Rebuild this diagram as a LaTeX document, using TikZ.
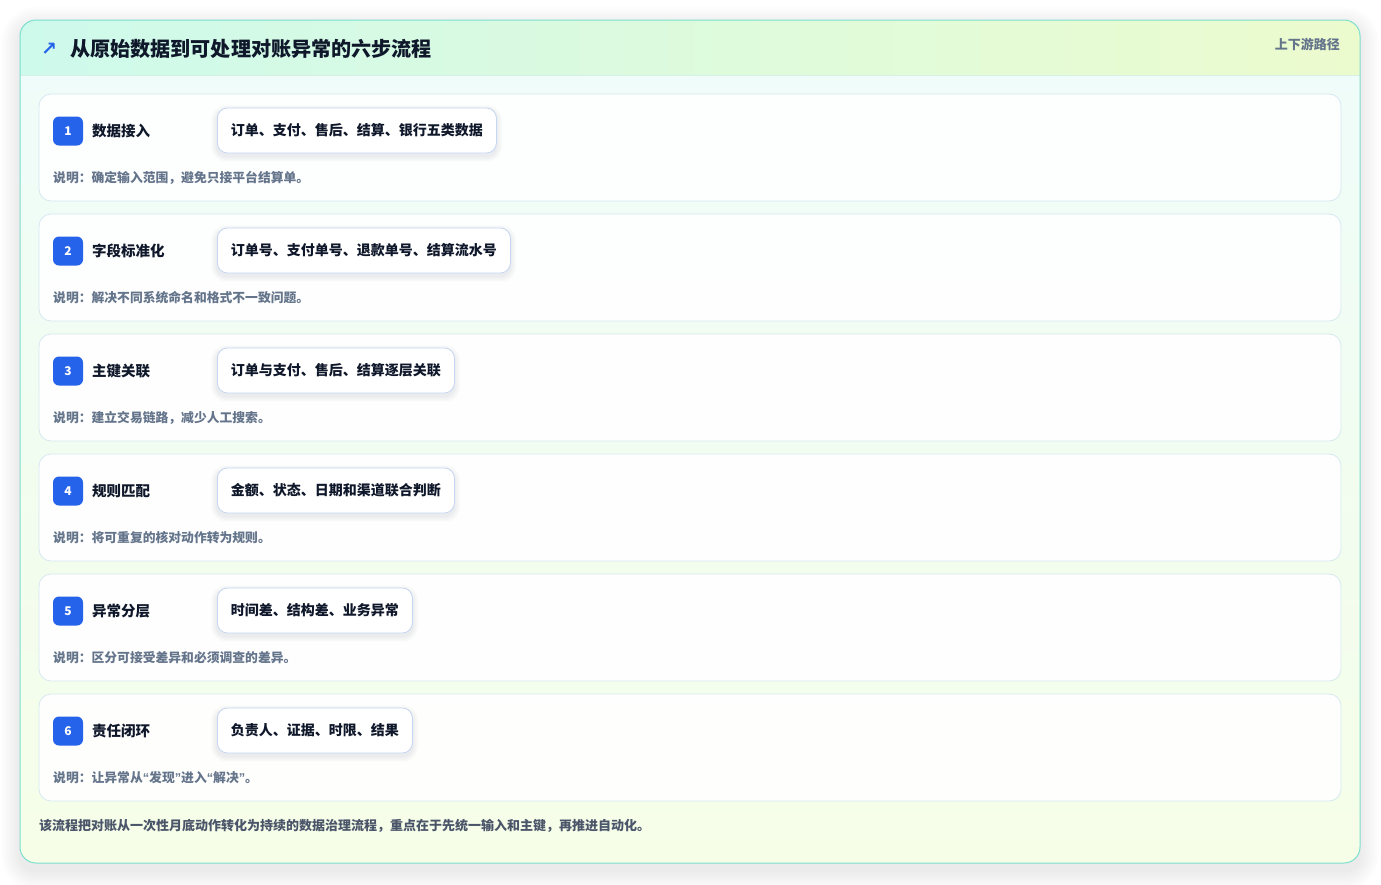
\documentclass[tikz,border=0pt]{standalone}
\usepackage{fontspec}
\setmainfont{Noto Sans CJK SC}
\newfontfamily\symfont{DejaVu Sans}
\newfontfamily\quotefont{Liberation Sans}
\definecolor{outerline}{RGB}{125,222,206}
\definecolor{hdrleft}{RGB}{206,250,236}
\definecolor{hdrright}{RGB}{236,251,206}
\definecolor{bodytop}{RGB}{238,252,250}
\definecolor{bodybot}{RGB}{246,254,232}
\definecolor{hdrline}{RGB}{214,240,230}
\definecolor{cardline}{RGB}{214,232,240}
\definecolor{chipline}{RGB}{196,214,242}
\definecolor{badgeblue}{RGB}{37,99,235}
\definecolor{ink}{RGB}{15,23,42}
\definecolor{muted}{RGB}{100,116,139}
\definecolor{foot}{RGB}{75,85,105}
\newcommand{\myLq}{{\quotefont“}}
\newcommand{\myRq}{{\quotefont”}}
\tikzset{
  stepcard/.style={draw=cardline, line width=0.8pt, fill=white, fill opacity=0.9, rounded corners=12pt},
  badge/.style={fill=badgeblue, rounded corners=6pt, minimum width=30pt, minimum height=29pt, inner sep=0pt, text=white, font=\bfseries\fontsize{12}{14}\selectfont},
  steplabel/.style={anchor=west, inner sep=0pt, text=ink, font=\bfseries\fontsize{14.5}{16}\selectfont},
  chipbase/.style={anchor=west, minimum height=45pt, inner xsep=13.5pt, inner ysep=0pt, font=\bfseries\fontsize{14}{16}\selectfont},
  chip/.style={chipbase, draw=chipline, line width=0.8pt, fill=white, rounded corners=10pt, text=ink},
  desc/.style={anchor=west, inner sep=0pt, text=muted, font=\bfseries\fontsize{12.8}{15}\selectfont},
}
\begin{document}
\begin{tikzpicture}[x=1pt,y=-1pt]
\useasboundingbox (0,0) rectangle (1381,884);
\fill[white] (0,0) rectangle (1381,884);
% outer card soft shadow
\foreach \e in {1,3,...,19}{
  \fill[black, opacity=0.006, rounded corners=16pt+\e pt] (20-\e,26-\e) rectangle (1360+\e,871+\e);
}
% outer card body
\begin{scope}
\clip[rounded corners=16pt] (20,20) rectangle (1360,863);
\shade[top color=bodytop, bottom color=bodybot] (20,20) rectangle (1360,863);
\shade[left color=hdrleft, right color=hdrright] (20,20) rectangle (1360,75);
\draw[hdrline, line width=0.8pt] (20,75) -- (1360,75);
\end{scope}
\draw[outerline, line width=1pt, rounded corners=16pt] (20,20) rectangle (1360,863);
% header
\node[anchor=west, inner sep=0pt, text=badgeblue, font=\symfont\bfseries\fontsize{19}{20}\selectfont] (arrow) at (41,49) {↗};
\node[anchor=west, inner sep=0pt, text=ink, font=\bfseries\fontsize{20.1}{22}\selectfont] (title) at (70,49) {从原始数据到可处理对账异常的六步流程};
\node[anchor=east, inner sep=0pt, text=muted, font=\bfseries\fontsize{13}{15}\selectfont] (tag) at (1340,44) {上下游路径};
% steps
\foreach \i/\lab/\chiptext/\desctext in {
  1/数据接入/订单、支付、售后、结算、银行五类数据/说明：确定输入范围，避免只接平台结算单。,
  2/字段标准化/订单号、支付单号、退款单号、结算流水号/说明：解决不同系统命名和格式不一致问题。,
  3/主键关联/订单与支付、售后、结算逐层关联/说明：建立交易链路，减少人工搜索。,
  4/规则匹配/金额、状态、日期和渠道联合判断/说明：将可重复的核对动作转为规则。,
  5/异常分层/时间差、结构差、业务异常/说明：区分可接受差异和必须调查的差异。,
  6/责任闭环/负责人、证据、时限、结果/说明：让异常从\myLq 发现\myRq 进入\myLq 解决\myRq 。}{
  \pgfmathsetmacro{\top}{94+120*(\i-1)}
  \draw[stepcard] (39,\top) rectangle (1341,\top+107);
  \node[badge] (b\i) at (68,\top+37) {\i};
  \node[steplabel] (l\i) at (92,\top+37) {\lab};
  \node[chipbase, text opacity=0] (p\i) at (217,\top+36.5) {\chiptext};
  \foreach \s in {1,2,...,6}{
    \fill[black!70!blue, opacity=0.01, rounded corners=10pt+\s pt]
      ([xshift=-\s pt, yshift=-3pt-\s pt]p\i.south west) rectangle ([xshift=\s pt, yshift=-3pt+\s pt]p\i.north east);
  }
  \node[chip] (c\i) at (217,\top+36.5) {\chiptext};
  \node[desc] (d\i) at (53,\top+84) {\desctext};
}
% footer
\node[anchor=west, inner sep=0pt, text=foot, font=\bfseries\fontsize{13}{15}\selectfont] (footer) at (39,826) {该流程把对账从一次性月底动作转化为持续的数据治理流程，重点在于先统一输入和主键，再推进自动化。};
\end{tikzpicture}
\end{document}
